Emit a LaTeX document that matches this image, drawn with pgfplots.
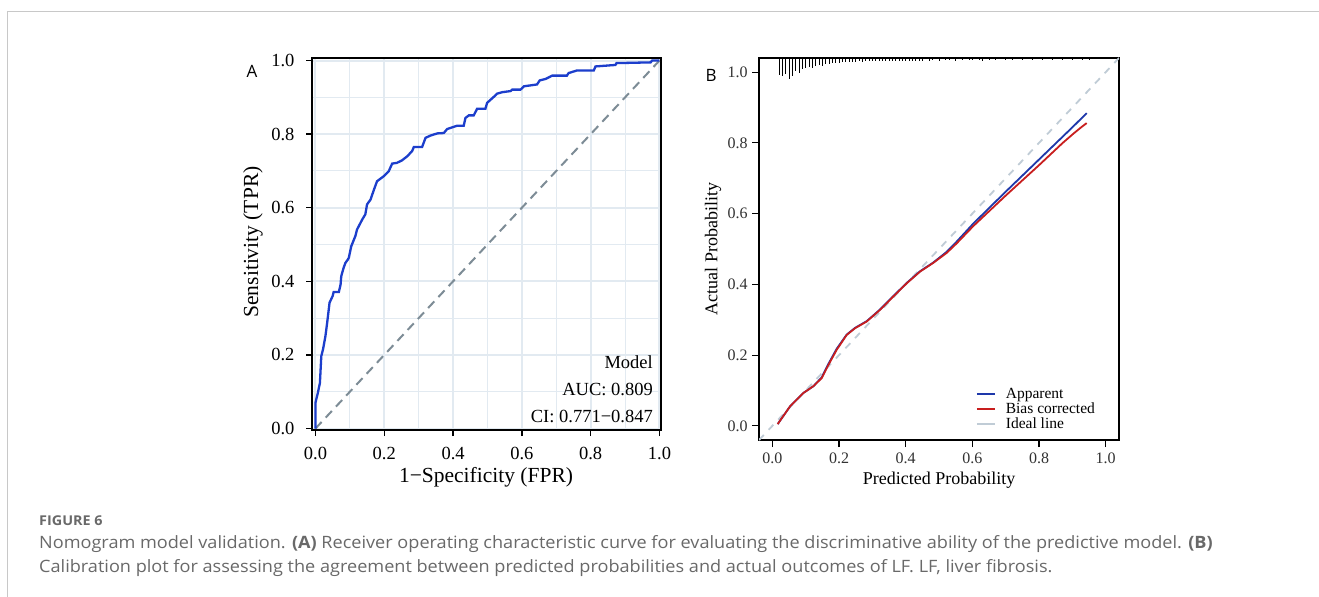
\documentclass[border=0pt]{standalone}
\usepackage{fontspec}
\setmainfont{Liberation Serif}
\newfontfamily\capfont[FakeStretch=1.065]{Open Sans}
\newfontfamily\lblfont{Open Sans}
\usepackage{pgfplots}
\usepackage{pgfplotstable}
\pgfplotsset{compat=1.18}
\definecolor{framegray}{RGB}{200,200,200}
\definecolor{rocblue}{RGB}{28,62,204}
\definecolor{diaggray}{RGB}{125,140,150}
\definecolor{gridc}{RGB}{226,234,241}
\definecolor{appblue}{RGB}{30,56,170}
\definecolor{bcred}{RGB}{200,30,30}
\definecolor{idealc}{RGB}{192,204,214}
\definecolor{capgray}{RGB}{105,105,105}
\definecolor{tickgray}{RGB}{50,50,50}

\pgfplotstableread{
x l
0.02 16
0.03 17
0.04 15
0.05 20
0.06 17
0.07 12
0.08 14
0.09 10
0.10 9
0.11 8
0.12 9
0.13 7
0.14 6
0.15 7
0.16 5
0.17 5
0.18 4
0.19 4
0.20 4
0.21 3
0.22 3
0.23 3
0.24 3
0.25 2.5
0.26 2
0.27 3
0.28 2
0.29 2
0.30 2
0.31 2
0.32 1.5
0.33 2
0.34 1.5
0.35 2
0.36 1.5
0.37 1.5
0.38 2
0.39 1.5
0.40 1.5
0.41 1.5
0.42 1.5
0.43 1.5
0.44 1.5
0.45 1.5
0.47 1.5
0.48 1
0.50 1.5
0.52 1
0.53 1
0.55 1.5
0.57 1
0.59 1
0.60 1
0.62 1
0.63 1.5
0.65 1
0.67 1
0.70 1
0.72 1
0.75 1
0.78 1
0.81 1
0.84 1
0.87 1
0.90 1
0.93 1
0.95 1
}\rugtable

\begin{document}
\begin{tikzpicture}[x=1bp,y=-1bp]
\useasboundingbox (0,0) rectangle (1319,597);
\fill[white] (0,0) rectangle (1319,597);
\draw[line width=1.5bp, color=framegray] (7.5,597) -- (7.5,11.5) -- (1319,11.5);

% ---------------- Panel A ----------------
\begin{axis}[
  at={(312bp,-430bp)}, anchor=south west, scale only axis,
  width=348.5bp, height=372.4bp,
  xmin=-0.01, xmax=1.003, ymin=-0.004, ymax=1.008,
  xtick={0,0.2,0.4,0.6,0.8,1.0}, ytick={0,0.2,0.4,0.6,0.8,1.0},
  xticklabels={0.0,0.2,0.4,0.6,0.8,1.0}, yticklabels={0.0,0.2,0.4,0.6,0.8,1.0},
  minor xtick={0.1,0.3,0.5,0.7,0.9}, minor ytick={0.1,0.3,0.5,0.7,0.9},
  xmajorgrids, ymajorgrids, xminorgrids, yminorgrids,
  major grid style={line width=2bp, color=gridc},
  minor grid style={line width=1bp, color=gridc},
  minor tick length=0pt,
  tick align=outside, xtick pos=bottom, ytick pos=left,
  major tick length=6bp,
  major tick style={line width=1.5bp, black},
  axis line style={line width=2bp, black},
  tick label style={font=\fontsize{18.5bp}{22bp}\selectfont},
  xticklabel shift=8bp, yticklabel shift=8bp,
  /pgf/number format/assume math mode=true,
  clip=true,
]
\addplot[diaggray, line width=2bp, dash pattern=on 9bp off 6bp] coordinates {(0,0) (1,1)};
\addplot[rocblue, line width=2.3bp] coordinates {
(0,0) (0,0.07) (0.007,0.097) (0.013,0.124) (0.017,0.197) (0.022,0.215) (0.029,0.251) (0.034,0.287) (0.041,0.342) (0.050,0.360) (0.053,0.371) (0.068,0.371) (0.073,0.391) (0.075,0.414) (0.082,0.437) (0.087,0.450) (0.094,0.459) (0.097,0.464) (0.104,0.495) (0.116,0.523) (0.121,0.541) (0.136,0.568) (0.145,0.582) (0.150,0.609) (0.160,0.622) (0.170,0.649) (0.179,0.672) (0.199,0.686) (0.213,0.699) (0.223,0.720) (0.237,0.722) (0.252,0.729) (0.267,0.740) (0.281,0.754) (0.286,0.765) (0.310,0.765) (0.320,0.790) (0.334,0.796) (0.354,0.802) (0.373,0.803) (0.383,0.814) (0.412,0.823) (0.431,0.823) (0.436,0.844) (0.446,0.851) (0.460,0.851) (0.470,0.869) (0.494,0.869) (0.499,0.885) (0.518,0.901) (0.528,0.910) (0.543,0.914) (0.567,0.917) (0.572,0.921) (0.596,0.921) (0.606,0.930) (0.644,0.935) (0.652,0.946) (0.669,0.950) (0.688,0.959) (0.731,0.959) (0.736,0.966) (0.760,0.973) (0.809,0.973) (0.814,0.984) (0.872,0.988) (0.875,0.993) (0.974,0.995) (0.979,1.0) (1.0,1.0)
};
\end{axis}
\node[font=\fontsize{18.5bp}{22bp}\selectfont, anchor=base east, inner sep=0] at (653,368) {Model};
\node[font=\fontsize{18.5bp}{22bp}\selectfont, anchor=base east, inner sep=0] at (653,395) {AUC: 0.809};
\node[font=\fontsize{18.5bp}{22bp}\selectfont, anchor=base east, inner sep=0] at (653,422) {CI: 0.771−0.847};
\node[font=\fontsize{21.5bp}{25bp}\selectfont, inner sep=0] at (486,477) {1−Specificity (FPR)};
\node[font=\fontsize{21.5bp}{25bp}\selectfont, inner sep=0, rotate=90] at (253,242) {Sensitivity (TPR)};
\node[font=\lblfont\fontsize{17bp}{20bp}\selectfont, inner sep=0] at (252,71) {A};

% ---------------- Panel B ----------------
\begin{axis}[
  at={(759bp,-440bp)}, anchor=south west, scale only axis,
  width=360bp, height=382bp,
  xmin=-0.04, xmax=1.04, ymin=-0.04, ymax=1.04,
  xtick={0,0.2,0.4,0.6,0.8,1.0}, ytick={0,0.2,0.4,0.6,0.8,1.0},
  xticklabels={0.0,0.2,0.4,0.6,0.8,1.0}, yticklabels={0.0,0.2,0.4,0.6,0.8,1.0},
  tick align=outside, xtick pos=bottom, ytick pos=left,
  major tick length=7bp,
  major tick style={line width=1.2bp, black},
  axis line style={line width=1.5bp, black},
  tick label style={font=\fontsize{16bp}{19bp}\selectfont, text=tickgray},
  xticklabel shift=2bp, yticklabel shift=1bp,
  /pgf/number format/assume math mode=true,
  legend style={at={(axis description cs:0.594,0.146)}, anchor=north west, draw=none, fill=none,
    font=\fontsize{15.5bp}{16bp}\selectfont, row sep=0bp,
    nodes={inner ysep=1.5bp},
    /tikz/every odd column/.append style={column sep=8bp}},
  legend cell align=left,
  legend image code/.code={\draw[#1] (0bp,0bp) -- (18bp,0bp);},
]
\addplot[idealc, line width=1.8bp, dash pattern=on 7bp off 7bp, forget plot] coordinates {(-0.04,-0.04) (1.04,1.04)};
\addplot[draw=none, forget plot, error bars/.cd, y dir=minus, y explicit, error mark=none,
  error bar style={draw=black, line width=1bp, solid}]
  table[x=x, y expr=1.04, y error expr=(\thisrow{l}+1.3)*0.002827] {\rugtable};
\addplot[appblue, line width=1.8bp] coordinates {
(0.016,0.005) (0.053,0.055) (0.093,0.093) (0.123,0.112) (0.148,0.137) (0.168,0.175) (0.193,0.218) (0.223,0.258) (0.248,0.277) (0.283,0.296) (0.323,0.329) (0.363,0.367) (0.403,0.404) (0.443,0.437) (0.483,0.462) (0.523,0.492) (0.553,0.521) (0.603,0.572) (0.70,0.662) (0.80,0.753) (0.90,0.844) (0.943,0.884)
};
\addlegendentry{Apparent}
\addplot[bcred, line width=1.8bp] coordinates {
(0.016,0.005) (0.053,0.055) (0.093,0.093) (0.123,0.112) (0.148,0.135) (0.168,0.172) (0.193,0.215) (0.223,0.257) (0.248,0.276) (0.283,0.295) (0.323,0.328) (0.363,0.366) (0.403,0.403) (0.443,0.436) (0.483,0.461) (0.523,0.489) (0.553,0.516) (0.603,0.565) (0.70,0.651) (0.80,0.737) (0.87,0.799) (0.903,0.826) (0.925,0.843) (0.943,0.856)
};
\addlegendentry{Bias corrected}
\addlegendimage{idealc, line width=1.8bp}
\addlegendentry{Ideal line}
\end{axis}
\node[font=\fontsize{18bp}{21bp}\selectfont, inner sep=0] at (939,480) {Predicted Probability};
\node[font=\fontsize{18bp}{21bp}\selectfont, inner sep=0, rotate=90] at (713,249) {Actual Probability};
\node[font=\lblfont\fontsize{17bp}{20bp}\selectfont, inner sep=0] at (711,75) {B};

% ---------------- Caption ----------------
\node[anchor=base west, inner sep=0, text=capgray, font=\capfont\bfseries\fontsize{13.5bp}{16bp}\selectfont] at (39,525) {FIGURE 6};
\node[anchor=base west, inner sep=0, text=capgray, font=\capfont\fontsize{17bp}{20bp}\selectfont] at (39,548) {Nomogram model validation. {\bfseries (A)} Receiver operating characteristic curve for evaluating the discriminative ability of the predictive model. {\bfseries (B)}};
\node[anchor=base west, inner sep=0, text=capgray, font=\capfont\fontsize{17bp}{20bp}\selectfont] at (39,572) {Calibration plot for assessing the agreement between predicted probabilities and actual outcomes of LF. LF, liver fibrosis.};
\end{tikzpicture}
\end{document}
